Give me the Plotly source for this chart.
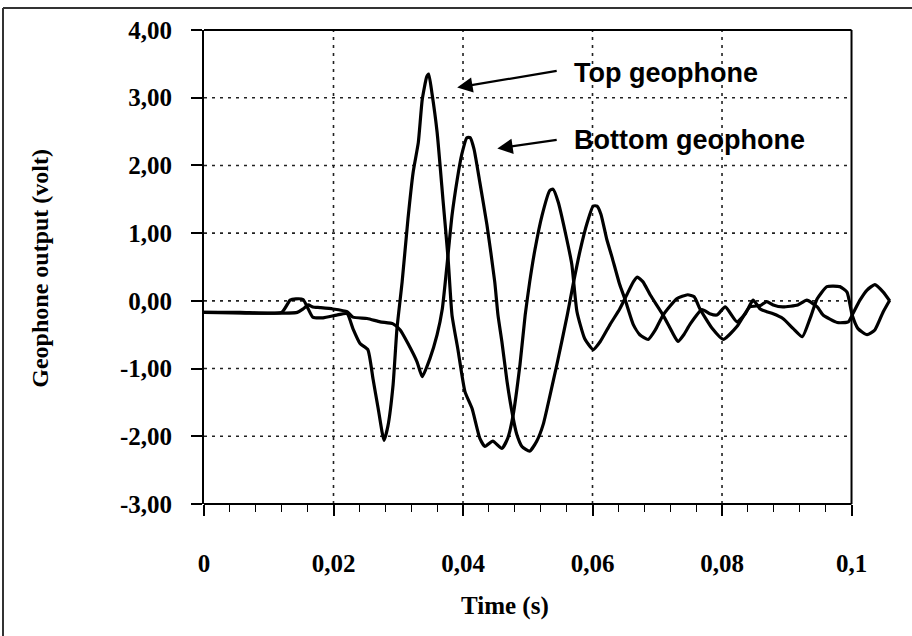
import plotly.graph_objects as go

# ---- data (time in s, output in volt) ----
time_top = [0, 0.0056, 0.0120, 0.0133, 0.0142, 0.0153, 0.0161, 0.0168, 0.0184, 0.0205,
            0.0221, 0.0230, 0.0241, 0.0253, 0.0261, 0.0269, 0.0278, 0.0284, 0.0292, 0.0298,
            0.0306, 0.0315, 0.0323, 0.0331, 0.0337, 0.0344, 0.0347, 0.0352, 0.0360, 0.0369,
            0.0377, 0.0383, 0.0392, 0.0403, 0.0414, 0.0426, 0.0434, 0.0446, 0.0460, 0.0469,
            0.0477, 0.0488, 0.0496, 0.0503, 0.0511, 0.0522, 0.0534, 0.0539, 0.0547, 0.0558,
            0.0568, 0.0576, 0.0588, 0.0601, 0.0612, 0.0627, 0.0642, 0.0653, 0.0663, 0.0669,
            0.0678, 0.0689, 0.0709, 0.0723, 0.0732, 0.0741, 0.0751, 0.0769, 0.0781, 0.0792,
            0.0805, 0.0823, 0.0836, 0.0848, 0.0859, 0.0869, 0.0879, 0.0894, 0.0910, 0.0924,
            0.0936, 0.0947, 0.0962, 0.0982, 0.0993, 0.1001, 0.1010, 0.1024, 0.1036, 0.1049,
            0.1059]
volt_top = [-0.17, -0.17, -0.17, 0.01, 0.03, 0.02, -0.12, -0.24, -0.25, -0.21,
            -0.19, -0.41, -0.63, -0.72, -1.15, -1.59, -2.06, -1.85, -1.24, -0.41,
            0.28, 1.21, 1.90, 2.34, 2.97, 3.31, 3.35, 3.07, 2.49, 1.50,
            0.62, -0.21, -0.71, -1.34, -1.59, -2.03, -2.15, -2.07, -2.18, -2.03,
            -1.71, -0.94, -0.21, 0.28, 0.75, 1.26, 1.63, 1.65, 1.46, 1.01,
            0.54, -0.16, -0.56, -0.72, -0.60, -0.35, -0.12, 0.09, 0.28, 0.35,
            0.28, 0.09, -0.21, -0.46, -0.60, -0.50, -0.34, -0.13, -0.19, -0.21,
            -0.09, -0.31, -0.19, 0.01, -0.12, -0.16, -0.19, -0.26, -0.41, -0.53,
            -0.26, 0.03, 0.21, 0.21, 0.13, -0.21, -0.41, -0.50, -0.43, -0.16,
            0.01]

time_bottom = [0, 0.0144, 0.0153, 0.0161, 0.0168, 0.0179, 0.0199, 0.0221, 0.0230, 0.0252,
               0.0272, 0.0292, 0.0303, 0.0315, 0.0329, 0.0337, 0.0349, 0.0360, 0.0368, 0.0375,
               0.0383, 0.0391, 0.0398, 0.0406, 0.0411, 0.0417, 0.0426, 0.0437, 0.0449, 0.0454,
               0.0460, 0.0468, 0.0477, 0.0483, 0.0491, 0.0503, 0.0514, 0.0524, 0.0534, 0.0545,
               0.0561, 0.0570, 0.0581, 0.0592, 0.0601, 0.0607, 0.0613, 0.0622, 0.0630, 0.0642,
               0.0650, 0.0663, 0.0673, 0.0686, 0.0697, 0.0709, 0.0730, 0.0747, 0.0757, 0.0766,
               0.0785, 0.0802, 0.0823, 0.0843, 0.0859, 0.0869, 0.0879, 0.0894, 0.0917, 0.0931,
               0.0947, 0.0956, 0.0978, 0.0995, 0.1002, 0.1013, 0.1024, 0.1036, 0.1049, 0.1059]
volt_bottom = [-0.17, -0.17, -0.12, -0.06, -0.09, -0.10, -0.12, -0.16, -0.24, -0.26,
               -0.31, -0.34, -0.43, -0.63, -0.90, -1.12, -0.85, -0.50, -0.12, 0.50,
               1.26, 1.79, 2.16, 2.41, 2.41, 2.24, 1.75, 1.12, 0.28, -0.21,
               -0.60, -1.19, -1.71, -1.97, -2.15, -2.22, -2.07, -1.82, -1.41, -0.94,
               -0.21, 0.24, 0.75, 1.16, 1.40, 1.40, 1.28, 0.91, 0.65, 0.24,
               0.03, -0.35, -0.50, -0.57, -0.43, -0.21, 0.03, 0.09, 0.06, -0.12,
               -0.41, -0.57, -0.38, -0.09, -0.07, -0.01, -0.06, -0.09, -0.06, 0.01,
               -0.09, -0.21, -0.32, -0.31, -0.19, 0.01, 0.16, 0.24, 0.13, 0.00]

y_tick_values = [-3, -2, -1, 0, 1, 2, 3, 4]
y_tick_labels = ["-3,00", "-2,00", "-1,00", "0,00", "1,00", "2,00", "3,00", "4,00"]
x_tick_values = [0, 0.02, 0.04, 0.06, 0.08, 0.1]
x_tick_labels = ["0", "0,02", "0,04", "0,06", "0,08", "0,1"]
x_minor_values = [0.004, 0.008, 0.012, 0.016, 0.024, 0.028, 0.032, 0.036,
                  0.044, 0.048, 0.052, 0.056, 0.064, 0.068, 0.072, 0.076,
                  0.084, 0.088, 0.092, 0.096]
x_grid_values = [0.02, 0.04, 0.06, 0.08]
y_grid_values = [-2, -1, 0, 1, 2, 3]

X_END = 0.1
X_MAX = 0.10656
Y_MIN, Y_MAX = -3, 4

SERIF = "Liberation Serif, Times New Roman, serif"
tick_font = dict(family=SERIF, size=25, color="black", weight="bold")
ytitle_font = dict(family=SERIF, size=24, color="black", weight="bold")
xtitle_font = dict(family=SERIF, size=25, color="black", weight="bold")
label_font = dict(family="Liberation Sans, Arial, sans-serif", size=27, color="black", weight="bold")

fig = go.Figure()
line_style = dict(color="black", width=3.2, shape="spline", smoothing=0.5)
fig.add_trace(go.Scatter(x=time_top, y=volt_top, mode="lines", line=line_style,
                         name="Top geophone", showlegend=False))
fig.add_trace(go.Scatter(x=time_bottom, y=volt_bottom, mode="lines", line=line_style,
                         name="Bottom geophone", showlegend=False))

shapes = []
grid_style = dict(color="#222222", width=1.6, dash="3px,5px")
for gx in x_grid_values:
    shapes.append(dict(type="line", xref="x", yref="y", x0=gx, x1=gx, y0=Y_MIN, y1=Y_MAX,
                       line=grid_style, layer="below"))
for gy in y_grid_values:
    shapes.append(dict(type="line", xref="x", yref="y", x0=0, x1=X_END, y0=gy, y1=gy,
                       line=grid_style, layer="below"))
box_style = dict(color="black", width=2)
shapes.append(dict(type="line", xref="x", yref="paper", x0=0, x1=X_END, y0=0, y1=0, line=box_style))
shapes.append(dict(type="line", xref="x", yref="paper", x0=0, x1=X_END, y0=1, y1=1, line=box_style))
shapes.append(dict(type="line", xref="x", yref="paper", x0=X_END, x1=X_END, y0=0, y1=1, line=box_style))
# outer frame of the figure (left and top edges)
frame_style = dict(color="#333333", width=2)
shapes.append(dict(type="line", xref="paper", yref="paper", x0=-0.2913, x1=-0.2913,
                   y0=-0.30, y1=1.0464, line=frame_style))
shapes.append(dict(type="line", xref="paper", yref="paper", x0=-0.2913, x1=1.05,
                   y0=1.0464, y1=1.0464, line=frame_style))

annotations = [
    dict(text="Top geophone", x=0.0568, y=3.37, xref="x", yref="y",
         xanchor="left", yanchor="middle", showarrow=False, font=label_font),
    dict(text="Bottom geophone", x=0.0568, y=2.37, xref="x", yref="y",
         xanchor="left", yanchor="middle", showarrow=False, font=label_font),
    dict(text="", x=0.0391, y=3.15, ax=0.0547, ay=3.40, xref="x", yref="y",
         axref="x", ayref="y", showarrow=True, arrowhead=2, arrowsize=1.4,
         arrowwidth=2.2, arrowcolor="black", standoff=0),
    dict(text="", x=0.0453, y=2.25, ax=0.0547, ay=2.38, xref="x", yref="y",
         axref="x", ayref="y", showarrow=True, arrowhead=2, arrowsize=1.4,
         arrowwidth=2.2, arrowcolor="black", standoff=0),
    dict(text="Geophone output (volt)", x=-0.238, y=0.498, xref="paper", yref="paper",
         textangle=-90, xanchor="center", yanchor="middle", showarrow=False, font=ytitle_font),
    dict(text="Time (s)", x=0.436, y=-0.215, xref="paper", yref="paper",
         xanchor="center", yanchor="middle", showarrow=False, font=xtitle_font),
]

fig.update_layout(
    width=912, height=636,
    margin=dict(l=204, r=18, t=30, b=132),
    paper_bgcolor="white", plot_bgcolor="white",
    shapes=shapes, annotations=annotations,
    xaxis=dict(range=[0, X_MAX], showline=False, showgrid=False, zeroline=False,
               tickmode="array", tickvals=x_tick_values, ticktext=x_tick_labels,
               ticks="outside", ticklen=11, tickwidth=1.5, tickcolor="black",
               ticklabelstandoff=26, tickfont=tick_font,
               minor=dict(tickmode="array", tickvals=x_minor_values, ticks="outside",
                          ticklen=7, tickwidth=1.2, tickcolor="black", showgrid=False)),
    yaxis=dict(range=[Y_MIN, Y_MAX], showline=True, linecolor="black", linewidth=2,
               showgrid=False, zeroline=False,
               tickmode="array", tickvals=y_tick_values, ticktext=y_tick_labels,
               ticks="outside", ticklen=11, tickwidth=1.5, tickcolor="black",
               ticklabelstandoff=14, tickfont=tick_font),
)

fig.write_html("out.html", config={"displayModeBar": False},
               post_script="document.body.style.margin='0px';")
